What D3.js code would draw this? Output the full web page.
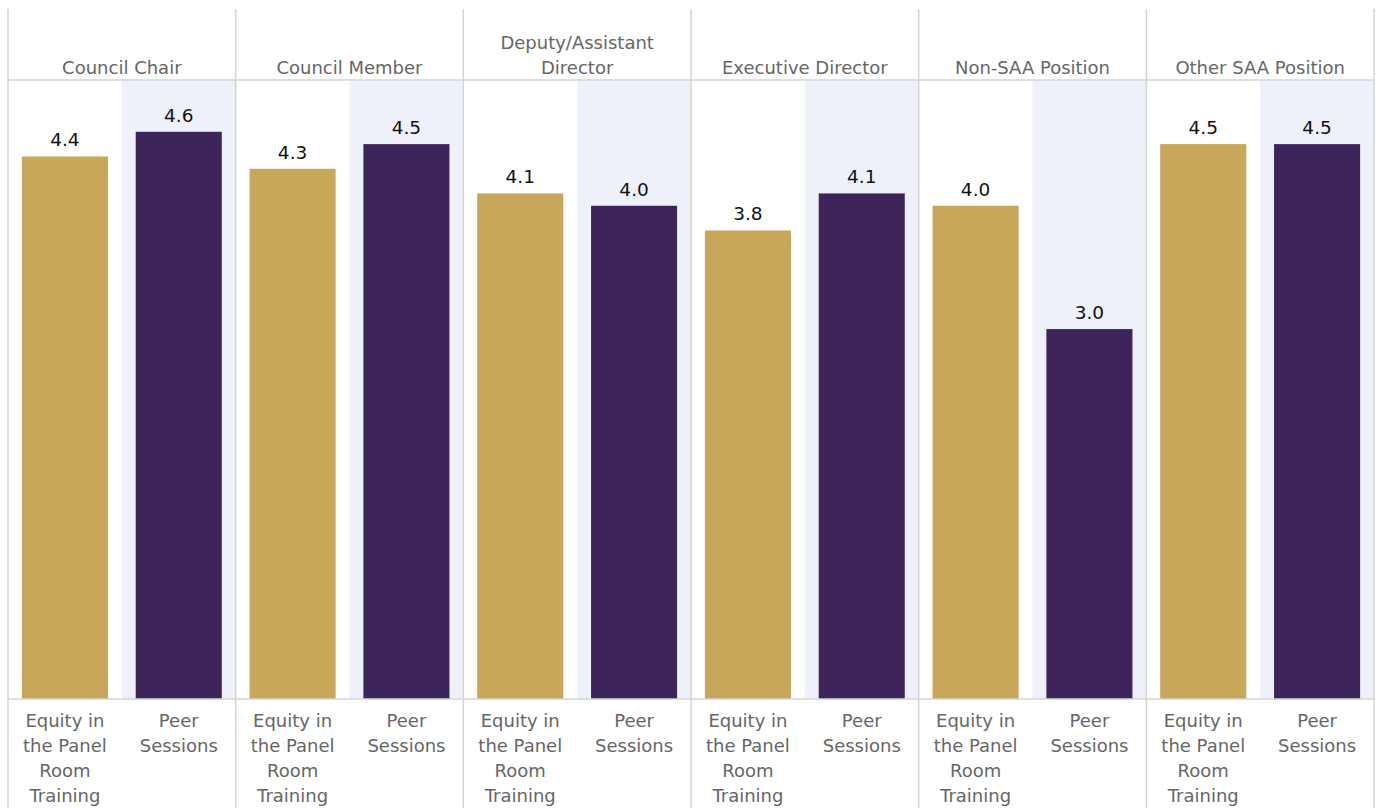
<!DOCTYPE html>
<html>
<head>
<meta charset="utf-8">
<script src="https://cdn.jsdelivr.net/npm/d3@7"></script>
<style>
  html, body { margin: 0; padding: 0; background: #fff; }
  svg { display: block; font-family: "DejaVu Sans", Verdana, sans-serif; }
</style>
</head>
<body>
<svg id="chart" width="1382" height="808"></svg>
<script>
// Positions held, one panel each
const positions = ["Council Chair", "Council Member", "Deputy/Assistant Director",
                   "Executive Director", "Non-SAA Position", "Other SAA Position"];
// Header lines per panel (wrapped text)
const positionHeaders = [["Council Chair"], ["Council Member"], ["Deputy/Assistant", "Director"],
                         ["Executive Director"], ["Non-SAA Position"], ["Other SAA Position"]];
// Program types within each panel
const programs = ["Equity in the Panel Room Training", "Peer Sessions"];
const programLabels = [["Equity in", "the Panel", "Room", "Training"], ["Peer", "Sessions"]];
// Average rating per position
const equityValues = [4.4, 4.3, 4.1, 3.8, 4.0, 4.5];
const peerValues   = [4.6, 4.5, 4.0, 4.1, 3.0, 4.5];

const colors = { [programs[0]]: "#C8A65A", [programs[1]]: "#3D245B" };

const svg = d3.select("#chart");
const frameLeft = 8, frameRight = 1374, frameTop = 9, headerBottom = 80, axisY = 699, frameBottom = 808;

const xPanel = d3.scaleBand().domain(positions).range([frameLeft, frameRight]).padding(0);
const xInner = d3.scaleBand().domain(programs).range([0, xPanel.bandwidth()])
  .paddingInner(0.244).paddingOuter(0.122);
const y = d3.scaleLinear().domain([0, 5.02]).range([axisY, headerBottom]);

const data = positions.map((p, i) => ({
  position: p,
  header: positionHeaders[i],
  values: [
    { program: programs[0], value: equityValues[i], label: programLabels[0] },
    { program: programs[1], value: peerValues[i], label: programLabels[1] }
  ]
}));

// Shaded background behind the second column of each panel
const colStep = xPanel.bandwidth() / 2;
svg.append("g").selectAll("rect").data(data).join("rect")
  .attr("x", d => xPanel(d.position) + colStep)
  .attr("y", headerBottom)
  .attr("width", colStep)
  .attr("height", axisY - headerBottom)
  .attr("fill", "#EEF1F9");

const panels = svg.append("g").selectAll("g").data(data).join("g")
  .attr("transform", d => `translate(${xPanel(d.position)},0)`);

// Bars
panels.selectAll("rect.bar").data(d => d.values).join("rect")
  .attr("class", "bar")
  .attr("x", d => xInner(d.program))
  .attr("width", xInner.bandwidth())
  .attr("y", d => y(d.value))
  .attr("height", d => axisY - y(d.value))
  .attr("fill", d => colors[d.program]);

// Value labels
panels.selectAll("text.val").data(d => d.values).join("text")
  .attr("class", "val")
  .attr("x", d => xInner(d.program) + xInner.bandwidth() / 2)
  .attr("y", d => y(d.value) - 10)
  .attr("text-anchor", "middle")
  .attr("font-size", 18.5)
  .attr("fill", "#111")
  .text(d => d3.format(".1f")(d.value));

// Panel headers
panels.append("text")
  .attr("text-anchor", "middle")
  .attr("font-size", 18)
  .attr("fill", "#666")
  .selectAll("tspan").data(d => d.header.map((t, i, a) => ({ t, i, n: a.length }))).join("tspan")
  .attr("x", xPanel.bandwidth() / 2)
  .attr("y", d => 74 - (d.n - 1 - d.i) * 25)
  .text(d => d.t);

// Category labels under the axis
panels.selectAll("text.cat").data(d => d.values).join("text")
  .attr("class", "cat")
  .attr("text-anchor", "middle")
  .attr("font-size", 18)
  .attr("fill", "#666")
  .each(function(d) {
    d3.select(this).selectAll("tspan").data(d.label).join("tspan")
      .attr("x", xInner(d.program) + xInner.bandwidth() / 2)
      .attr("y", (t, i) => 727 + i * 25)
      .text(t => t);
  });

// Frame lines
const lineColor = "#D4D4D4";
const g = svg.append("g").attr("stroke", lineColor).attr("stroke-width", 1.5);
const edges = positions.map(p => xPanel(p)).concat([frameRight]);
g.selectAll("line.v").data(edges).join("line")
  .attr("x1", d => d).attr("x2", d => d)
  .attr("y1", frameTop).attr("y2", frameBottom);
g.append("line").attr("x1", frameLeft).attr("x2", frameRight).attr("y1", headerBottom).attr("y2", headerBottom);
g.append("line").attr("x1", frameLeft).attr("x2", frameRight).attr("y1", axisY).attr("y2", axisY);
</script>
</body>
</html>
